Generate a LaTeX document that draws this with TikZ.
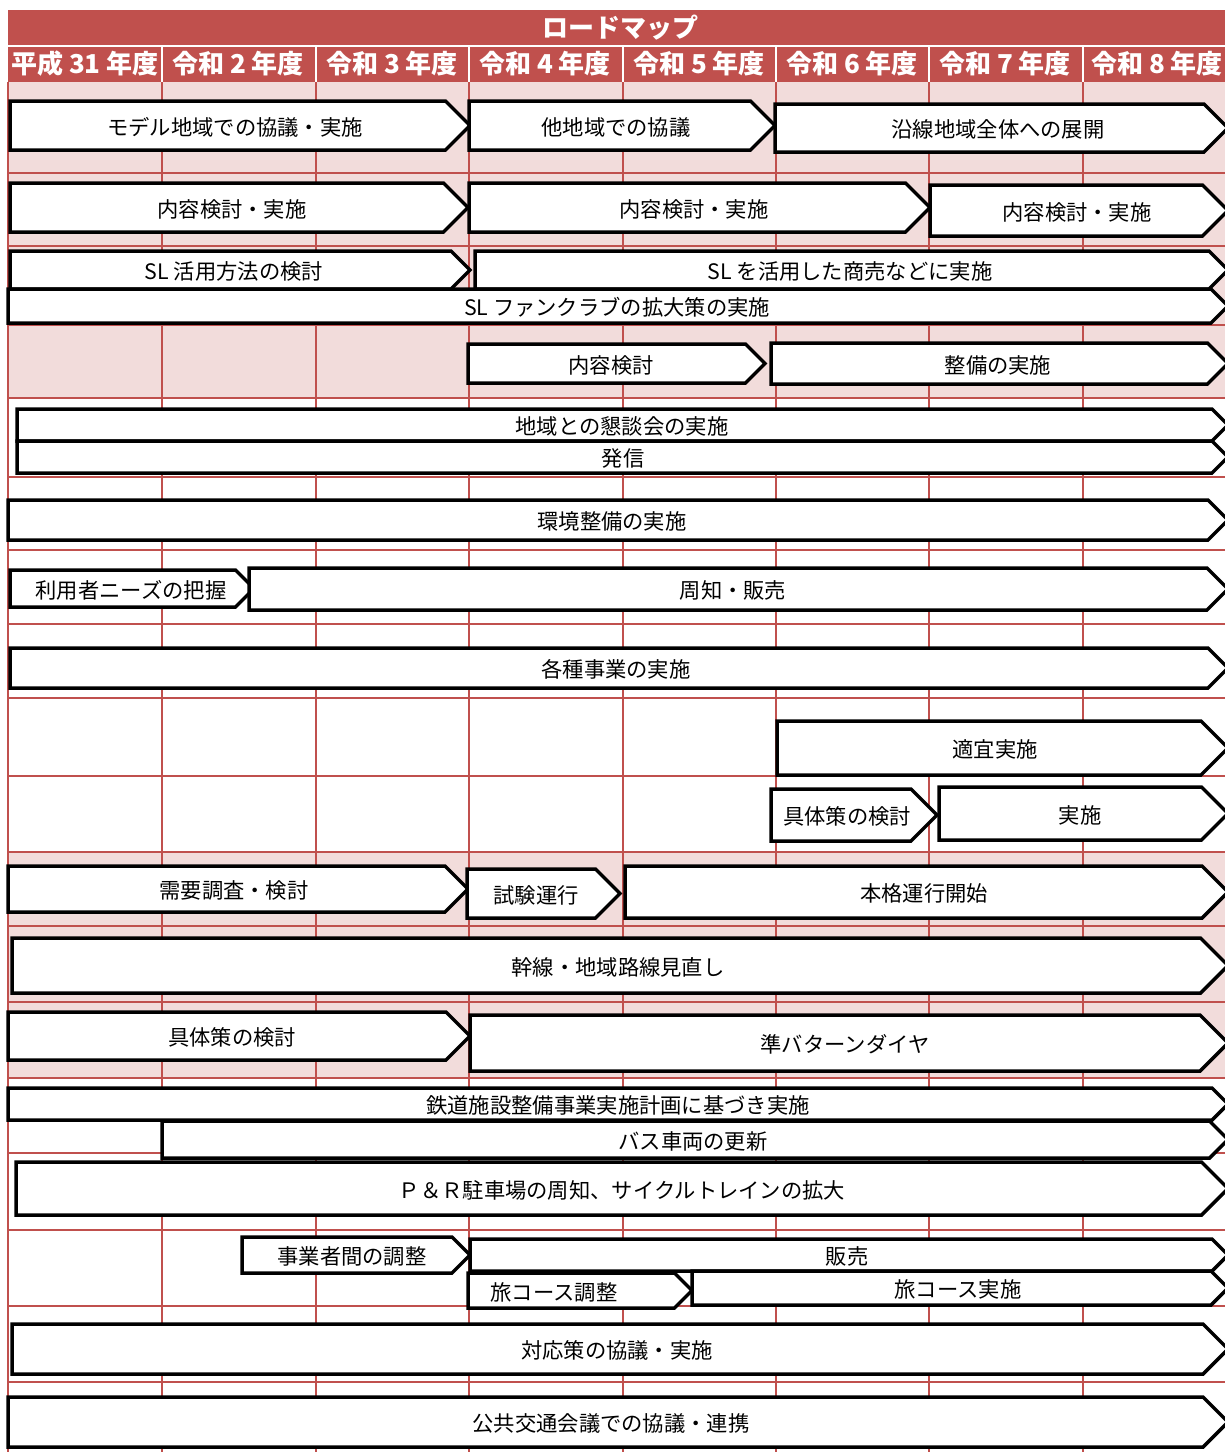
\documentclass[tikz,border=0pt]{standalone}
\usepackage{fontspec}
\newfontfamily\jp{Noto Sans CJK JP}
\definecolor{hdr}{HTML}{C0504D}
\definecolor{pinkbg}{HTML}{F2DCDB}
\tikzset{
  barline/.style={draw=black, fill=white, line width=3.5pt, line join=miter},
  bartext/.style={font=\jp\fontsize{21.3}{24}\selectfont, text=black, inner sep=0pt, yshift=-1.5pt},
  gridline/.style={draw=hdr, line width=2pt},
  hdrtext/.style={font=\jp\bfseries\fontsize{26}{30}\selectfont, text=white, inner sep=0pt},
  sepline/.style={draw=white, line width=2pt},
}
\newcommand\rmbar[7]{%
  \draw[barline] (#2,#3) -- ({#4-(#5-#3)/2},#3) -- (#4,{(#3+#5)/2}) -- ({#4-(#5-#3)/2},#5) -- (#2,#5) -- cycle;
  \node[bartext] (#1) at (#6,{(#3+#5)/2}) {#7};}
\begin{document}
\begin{tikzpicture}[x=1pt,y=-1pt]
\useasboundingbox (0,0) rectangle (1225,1452);
\fill[white] (0,0) rectangle (1225,1452);
% pink rows
\fill[pinkbg] (8,82) rectangle (1225,398);
\fill[pinkbg] (8,852) rectangle (1225,1078);
% grid
\foreach \gx in {8,162,316,469,623,776,929,1083} {\draw[gridline] (\gx,82) -- (\gx,1452);}
\foreach \gy in {173,246,325,398,477,550,624,698,776,852,926,1002,1078,1153,1230,1306,1382} {\draw[gridline] (8,\gy) -- (1225,\gy);}
% header
\fill[hdr] (8,10) rectangle (1225,82);
\draw[sepline] (8,46) -- (1225,46);
\foreach \gx in {162,316,469,623,776,929,1083} {\draw[sepline] (\gx,46) -- (\gx,82);}
\node[hdrtext] (title) at (620,28) {ロードマップ};
\node[hdrtext] (y1) at (85,64) {平成 31 年度};
\node[hdrtext] (y2) at (238,64) {令和 2 年度};
\node[hdrtext] (y3) at (392,64) {令和 3 年度};
\node[hdrtext] (y4) at (545,64) {令和 4 年度};
\node[hdrtext] (y5) at (699,64) {令和 5 年度};
\node[hdrtext] (y6) at (852,64) {令和 6 年度};
\node[hdrtext] (y7) at (1005,64) {令和 7 年度};
\node[hdrtext] (y8) at (1157,64) {令和 8 年度};
% bars
\rmbar{b1}{10}{101}{470}{150}{235}{モデル地域での協議・実施}
\rmbar{b2}{469}{101}{775}{150}{616}{他地域での協議}
\rmbar{b3}{775}{104}{1228}{152}{998}{沿線地域全体への展開}
\rmbar{b4}{10}{183}{468}{232}{232}{内容検討・実施}
\rmbar{b5}{469}{183}{930}{232}{694}{内容検討・実施}
\rmbar{b6}{930}{185}{1228}{236}{1077}{内容検討・実施}
\rmbar{b7}{10}{251}{470}{289}{234}{SL 活用方法の検討}
\rmbar{b8}{475}{251}{1228}{289}{850}{SL を活用した商売などに実施}
\rmbar{b9}{8}{289}{1228}{323}{617}{SL ファンクラブの拡大策の実施}
\rmbar{b10}{468}{344}{765}{383}{611}{内容検討}
\rmbar{b11}{771}{343}{1228}{384}{998}{整備の実施}
\rmbar{b12}{17}{409}{1228}{441}{622}{地域との懇談会の実施}
\rmbar{b13}{17}{441}{1228}{473}{623}{発信}
\rmbar{b14}{8}{500}{1228}{540}{612}{環境整備の実施}
\rmbar{b15}{10}{570}{254}{607}{131}{利用者ニーズの把握}
\rmbar{b16}{249}{568}{1228}{610}{733}{周知・販売}
\rmbar{b17}{10}{648}{1228}{688}{616}{各種事業の実施}
\rmbar{b18}{777}{721}{1228}{775}{995}{適宜実施}
\rmbar{b19}{771}{789}{937}{841}{847}{具体策の検討}
\rmbar{b20}{939}{787}{1228}{840}{1080}{実施}
\rmbar{b21}{8}{866}{468}{912}{234}{需要調査・検討}
\rmbar{b22}{467}{869}{620}{918}{536}{試験運行}
\rmbar{b23}{625}{866}{1228}{918}{924}{本格運行開始}
\rmbar{b24}{12}{938}{1228}{993}{618}{幹線・地域路線見直し}
\rmbar{b25}{8}{1012}{470}{1060}{232}{具体策の検討}
\rmbar{b26}{470}{1015}{1228}{1071}{845}{準バターンダイヤ}
\rmbar{b27}{8}{1088}{1228}{1120}{618}{鉄道施設整備事業実施計画に基づき実施}
\rmbar{b28}{162}{1121}{1228}{1158}{693}{バス車両の更新}
\rmbar{b29}{16}{1162}{1228}{1215}{622}{Ｐ＆Ｒ駐車場の周知、サイクルトレインの拡大}
\rmbar{b30}{242}{1237}{470}{1273}{352}{事業者間の調整}
\rmbar{b31}{470}{1239}{1228}{1271}{847}{販売}
\rmbar{b32}{468}{1273}{692}{1308}{554}{旅コース調整}
\rmbar{b33}{692}{1271}{1228}{1305}{958}{旅コース実施}
\rmbar{b34}{12}{1324}{1228}{1374}{617}{対応策の協議・実施}
\rmbar{b35}{8}{1397}{1228}{1447}{611}{公共交通会議での協議・連携}
\end{tikzpicture}
\end{document}
